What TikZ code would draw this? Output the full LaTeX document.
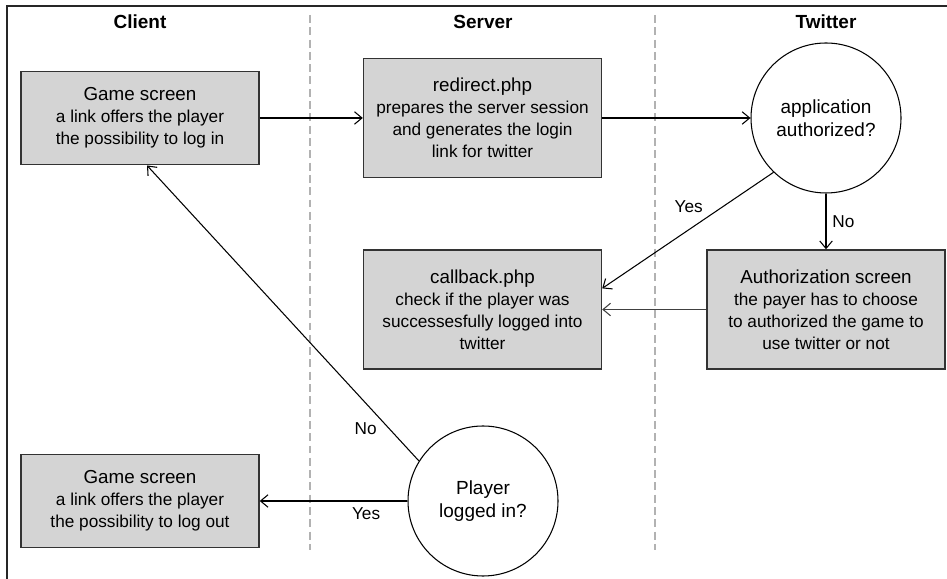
\documentclass[tikz,border=0pt]{standalone}
\usepackage{fontspec}
\setmainfont{Liberation Sans}
\usetikzlibrary{arrows.meta,positioning}
\newcommand\scrtitle[1]{{\fontsize{10.7}{13}\selectfont #1}}

\begin{document}
\begin{tikzpicture}[
      every node/.style={font=\fontsize{9.8}{12.6}\selectfont},
      lane/.style={font=\fontsize{10.8}{13}\selectfont\bfseries,anchor=base},
      screen/.style={draw=black!80,fill=black!17,line width=0.8pt,
        minimum width=4.76cm,align=center},
      ask/.style={circle,draw,line width=0.6pt,minimum size=3cm,align=center,
        font=\fontsize{10.8}{13}\selectfont},
      flow/.style={-{Straight Barb[length=1.5mm,width=2.5mm]},line width=0.6pt},
      divider/.style={black!30,line width=0.7pt,dash pattern=on 4.5pt off 2.5pt}]
      \useasboundingbox (0,0) rectangle (18.94,11.58);
      \draw[black!85,line width=0.9pt] (0.14,0) -- (0.14,11.46) -- (18.94,11.46);
      \draw[divider] (6.20,11.28) -- (6.20,0.58);
      \draw[divider] (13.10,11.28) -- (13.10,0.58);
      % swimlane titles
      \node[lane] (client) at (2.80,11.00) {Client};
      \node[lane] (server) at (9.66,11.00) {Server};
      \node[lane] (twitter) at (16.52,11.00) {Twitter};
      % screens and scripts
      \node[screen,minimum height=1.87cm] (login) at (2.80,9.22)
        {\scrtitle{Game screen}\\a link offers the player\\the possibility to log in};
      \node[screen,minimum height=2.38cm] (redirect) at (9.65,9.22)
        {\scrtitle{redirect.php}\\prepares the server session\\and generates the login\\link for twitter};
      \node[ask] (authq) at (16.52,9.22) {application\\authorized?};
      \node[screen,minimum height=2.38cm] (authscreen) at (16.52,5.39)
        {\scrtitle{Authorization screen}\\the payer has to choose\\to authorized the game to\\use twitter or not};
      \node[screen,minimum height=2.38cm] (callback) at (9.65,5.39)
        {\scrtitle{callback.php}\\check if the player was\\successesfully logged into\\twitter};
      \node[ask] (player) at (9.66,1.56) {Player\\logged in?};
      \node[screen,minimum height=1.87cm] (logout) at (2.80,1.56)
        {\scrtitle{Game screen}\\a link offers the player\\the possibility to log out};
      % flow
      \draw[flow] (login) -- (redirect);
      \draw[flow] (redirect) -- (authq);
      \draw[flow] (authq) -- node[right] {No} (authscreen);
      \draw[flow] (authq.226) -- node[pos=0.3,left,xshift=-0.26cm] {Yes} (callback.10);
      \draw[flow,black!75] (authscreen) -- (callback);
      \draw[flow] (player.148) -- node[pos=0.11,left,xshift=-0.12cm] {No} ([xshift=0.14cm]login.south);
      \draw[flow] (player) -- node[pos=0.28,below] {Yes} (logout);
    \end{tikzpicture}
\end{document}
